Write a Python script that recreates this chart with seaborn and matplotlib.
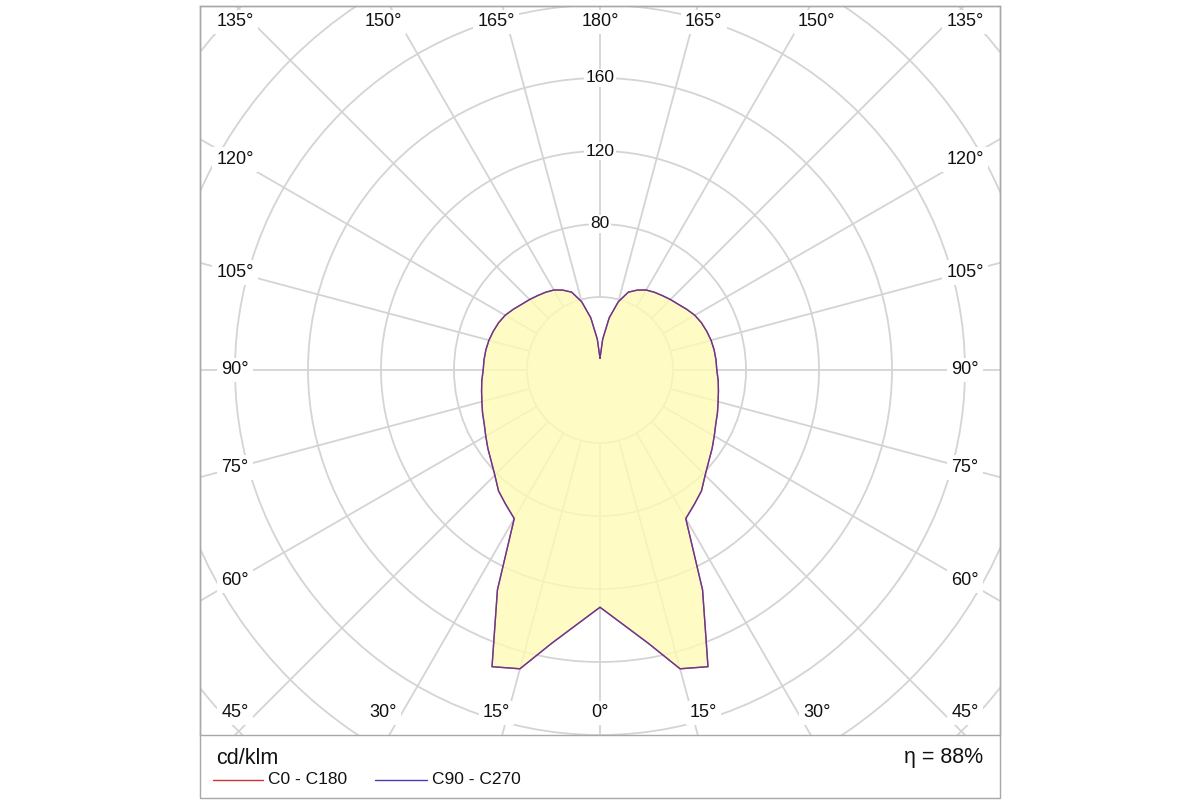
import numpy as np
import pandas as pd
import matplotlib
matplotlib.use("Agg")
import matplotlib.pyplot as plt
from matplotlib.patches import Circle, Rectangle
from matplotlib.lines import Line2D
import seaborn as sns

# luminous intensity (cd/klm) at gamma 0..180 deg, half plane (mirrored for the other half)
gamma = list(range(0, 181, 5))
cd_c0_c180 = [130, 139.6, 152, 169.5, 173, 133, 94, 90, 86.5, 81.5, 77.8, 75, 72.3,
              70, 68.5, 67, 65.9, 65, 64, 63.8, 63.5, 63, 62.2, 61.3, 60, 58, 56,
              54.6, 53.2, 52, 50.6, 48.3, 45.4, 38.7, 29, 17, 6.5]
cd_c90_c270 = list(cd_c0_c180)

ring_values = [40, 80, 120, 160, 200, 240, 280]
ring_labels = [80, 120, 160]
angle_ticks = list(range(0, 181, 15))
unit_label = "cd/klm"
efficiency_label = "η = 88%"
plane_names = ["C0 - C180", "C90 - C270"]
plane_colors = {"C0 - C180": "#cc3333", "C90 - C270": "#4a3aae"}

GRID = "#d4d4d4"
FILL = "#fffbb4"
FRAME = "#a8a8a8"
TEXT = "#111111"


def to_xy(g_deg, r, side):
    g = np.radians(g_deg)
    return side * r * np.sin(g), -r * np.cos(g)


def full_curve(values):
    g = np.array(gamma, dtype=float)
    v = np.array(values, dtype=float)
    # left half (C180 / C270) from top down to 0, then right half (C0 / C90) from 0 up to top
    xl, yl = to_xy(g[::-1], v[::-1], -1)
    xr, yr = to_xy(g[1:], v[1:], 1)
    return np.concatenate([xl, xr]), np.concatenate([yl, yr])


rows = []
for name, vals in zip(plane_names, [cd_c0_c180, cd_c90_c270]):
    x, y = full_curve(vals)
    for i, (xi, yi) in enumerate(zip(x, y)):
        rows.append({"plane": name, "order": i, "x": xi, "y": yi})
df = pd.DataFrame(rows)

sns.set_style("white")
plt.rcParams["font.family"] = ["Liberation Sans", "DejaVu Sans"]

fig = plt.figure(figsize=(12, 8), dpi=100)
scale = 1.825  # px per cd/klm
ax = fig.add_axes([200 / 1200, 1 - 735 / 800, 800 / 1200, 729 / 800])
ax.set_xlim(-400 / scale, 400 / scale)
ax.set_ylim(-365 / scale, 364 / scale)
ax.set_aspect("equal", adjustable="box")
ax.set_xticks([])
ax.set_yticks([])
for sp in ax.spines.values():
    sp.set_color(FRAME)
    sp.set_linewidth(1.0)

# rings
for r in ring_values:
    ax.add_patch(Circle((0, 0), r, fill=False, ec=GRID, lw=1.3, zorder=1))

# spokes, starting at the inner ring
for a in range(0, 360, 15):
    g = np.radians(a)
    ax.plot([40 * np.sin(g), 400 * np.sin(g)], [-40 * np.cos(g), -400 * np.cos(g)],
            color=GRID, lw=1.3, zorder=1, solid_capstyle="butt")

# filled distribution
xf, yf = full_curve(cd_c0_c180)
ax.fill(xf, yf, color=FILL, alpha=0.78, lw=0, zorder=2)

sns.lineplot(data=df[df.plane == plane_names[0]], x="x", y="y", sort=False,
             estimator=None, color=plane_colors[plane_names[0]], lw=1.0, ax=ax, zorder=3)
sns.lineplot(data=df[df.plane == plane_names[1]], x="x", y="y", sort=False,
             estimator=None, color=plane_colors[plane_names[1]], lw=1.0, alpha=0.8,
             ax=ax, zorder=4)
ax.set_xlabel("")
ax.set_ylabel("")

# ring labels on the 180 deg spoke
for r in ring_labels:
    ax.text(0, r, str(r), ha="center", va="center", fontsize=12.5, color=TEXT,
            zorder=5, bbox=dict(boxstyle="square,pad=0.08", fc="white", ec="none"))

# angle labels along the frame
W = 365 / scale
H_top = 348 / scale
H_bot = 343 / scale
H_edge = 365 / scale
nudge = 6 / scale
for a in angle_ticks:
    sides = [1] if a in (0, 180) else [-1, 1]
    for s in sides:
        g = np.radians(a)
        dx, dy = s * np.sin(g), -np.cos(g)
        H = H_top if dy > 0 else H_bot
        tw = W / abs(dx) if abs(dx) > 1e-9 else np.inf
        th = H / abs(dy) if abs(dy) > 1e-9 else np.inf
        if th <= tw:
            # top / bottom row: follow the spoke to the frame edge
            px = min(H_edge * abs(dx / dy) + nudge, W) * np.sign(dx) if abs(dx) > 1e-9 else 0.0
            py = np.sign(dy) * H
        else:
            px, py = tw * dx, tw * dy
        ax.text(px, py, f"{a}°", ha="center", va="center", fontsize=13,
                color=TEXT, zorder=5,
                bbox=dict(boxstyle="square,pad=0.22", fc="white", ec="none"))

# outer frame around chart and legend
fig.add_artist(Rectangle((200 / 1200, 1 - 798 / 800), 800 / 1200, 792 / 800,
                         transform=fig.transFigure, fill=False, ec=FRAME, lw=1.0))

fig.text(216 / 1200, 1 - 758 / 800, unit_label, ha="left", va="center", fontsize=15.5,
         color=TEXT)
fig.text(983 / 1200, 1 - 758 / 800, efficiency_label, ha="right", va="center",
         fontsize=15.5, color=TEXT)

ly = 1 - 780 / 800
for (x0, x1, tx), name in zip([(213, 263, 268), (375, 427, 432)], plane_names):
    fig.add_artist(Line2D([x0 / 1200, x1 / 1200], [ly, ly], transform=fig.transFigure,
                          color=plane_colors[name], lw=1.0))
    fig.text(tx / 1200, ly, name, ha="left", va="center", fontsize=12.5, color=TEXT)

fig.savefig("out.png", dpi=100, facecolor="white")
